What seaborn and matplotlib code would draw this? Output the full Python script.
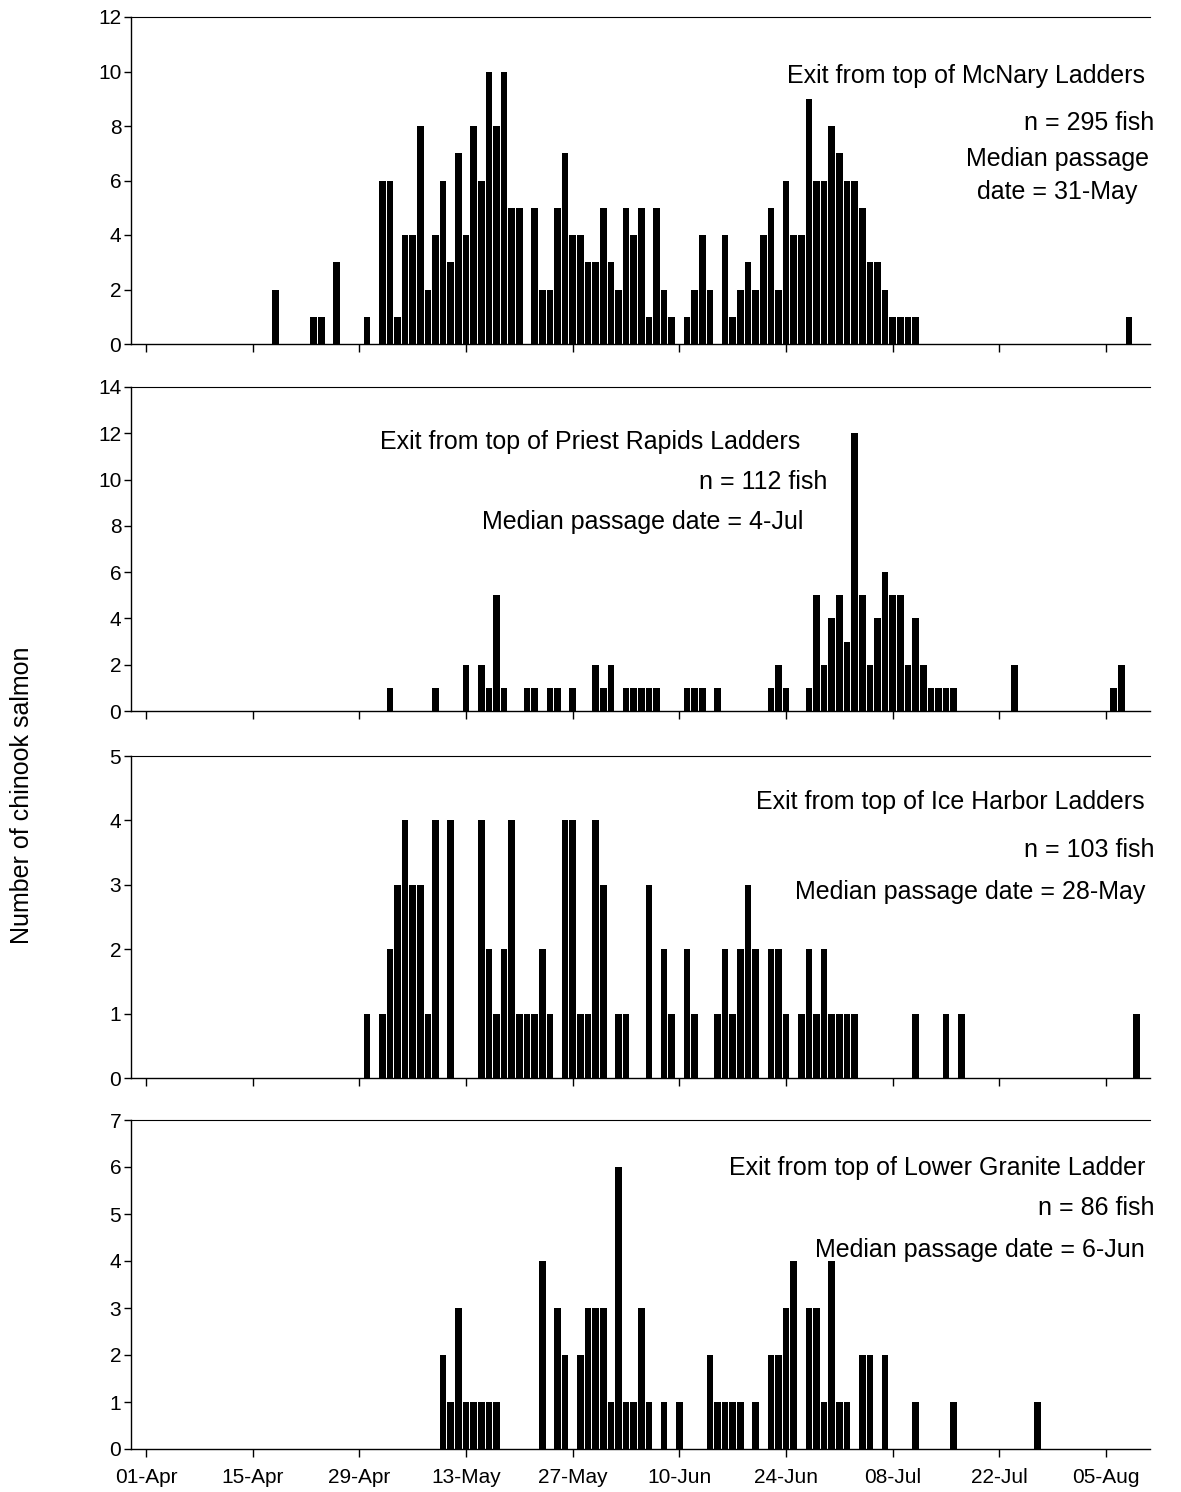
import numpy as np
import pandas as pd
import matplotlib
matplotlib.use("Agg")
import matplotlib.pyplot as plt
import seaborn as sns

# ---- daily counts of chinook salmon leaving the top of each ladder ----
season_start = "01-Apr"

mcnary_first = "18-Apr"
mcnary_counts = [
    2, 0, 0, 0, 0, 1, 1, 0, 3, 0, 0, 0, 1, 0,
    6, 6, 1, 4, 4, 8, 2, 4, 6, 3, 7, 4,
    8, 6, 10, 8, 10, 5, 5, 0,
    5, 2, 2, 5, 7, 4, 4, 3, 3, 5, 3, 2, 5, 4, 5, 1, 5, 2, 1, 0,
    1, 2, 4, 2, 0,
    4, 1, 2, 3, 2, 4, 5, 2, 6, 4, 4,
    9, 6, 6, 8, 7, 6, 6, 5, 3, 3, 2, 1, 1, 1, 1,
    0, 0, 0, 0, 0, 0, 0, 0, 0, 0, 0, 0, 0, 0, 0, 0, 0, 0, 0, 0, 0, 0, 0, 0, 0, 0, 0,
    1,
]

priest_first = "03-May"
priest_counts = [
    1, 0, 0, 0, 0, 0, 1, 0, 0, 0,
    2, 0, 2, 1, 5, 1, 0, 0, 1, 1,
    0, 1, 1, 0, 1, 0, 0, 2, 1, 2,
    0, 1, 1, 1, 1, 1, 0, 0, 0, 1,
    1, 1, 0, 1, 0, 0, 0, 0, 0, 0,
    1, 2, 1, 0, 0, 1, 5, 2, 4, 5,
    3, 12, 5, 2, 4, 6, 5, 5, 2, 4,
    2, 1, 1, 1, 1, 0, 0, 0, 0, 0,
    0, 0, 2, 0, 0, 0, 0, 0, 0, 0,
    0, 0, 0, 0, 0, 1, 2,
]

iceharbor_first = "30-Apr"
iceharbor_counts = [
    1, 0, 1, 2, 3, 4, 3, 3, 1, 4, 0, 4,
    0, 0, 0, 4, 2, 1, 2, 4, 1, 1,
    1, 2, 1, 0, 4, 4, 1, 1, 4, 3,
    0, 1, 1, 0, 0, 3, 0, 2, 1, 0,
    2, 1, 0, 0, 1, 2, 1, 2, 3, 2,
    0, 2, 2, 1, 0, 1, 2, 1, 2, 1,
    1, 1, 1, 0, 0, 0, 0, 0, 0, 0,
    1, 0, 0, 0, 1, 0, 1, 0, 0, 0,
    0, 0, 0, 0, 0, 0, 0, 0, 0, 0,
    0, 0, 0, 0, 0, 0, 0, 0, 0, 1,
]

granite_first = "10-May"
granite_counts = [
    2, 1,
    3, 1, 1, 1, 1, 1, 0, 0, 0, 0,
    0, 4, 0, 3, 2, 0, 2, 3, 3, 3,
    1, 6, 1, 1, 3, 1, 0, 1, 0, 1,
    0, 0, 0, 2, 1, 1, 1, 1, 0, 1,
    0, 2, 2, 3, 4, 0, 3, 3, 1, 4,
    1, 1, 0, 2, 2, 0, 2, 0, 0, 0,
    1, 0, 0, 0, 0, 1, 0, 0, 0, 0,
    0, 0, 0, 0, 0, 0, 1,
]

panel_titles = [
    "Exit from top of McNary Ladders",
    "Exit from top of Priest Rapids Ladders",
    "Exit from top of Ice Harbor Ladders",
    "Exit from top of Lower Granite Ladder",
]
panel_n = ["n = 295 fish", "n = 112 fish", "n = 103 fish", "n = 86 fish"]
panel_median = [
    "Median passage\ndate = 31-May",
    "Median passage date = 4-Jul",
    "Median passage date = 28-May",
    "Median passage date = 6-Jun",
]
panel_ymax = [12, 14, 5, 7]
panel_ystep = [2, 2, 1, 1]
tick_every_days = 14
last_tick_day = 126
y_label = "Number of chinook salmon"

# ---- helpers ----
YEAR = "-2000"


def to_date(label):
    return pd.to_datetime(label + YEAR, format="%d-%b-%Y")


start_date = to_date(season_start)


def season_day(label):
    return (to_date(label) - start_date).days


series = [
    (mcnary_first, mcnary_counts),
    (priest_first, priest_counts),
    (iceharbor_first, iceharbor_counts),
    (granite_first, granite_counts),
]

# ---- style ----
sns.set_style("ticks")
plt.rcParams["font.family"] = ["Liberation Sans", "DejaVu Sans"]
plt.rcParams["axes.linewidth"] = 1.0
for key in ["text.color", "axes.labelcolor", "axes.edgecolor", "xtick.color", "ytick.color"]:
    plt.rcParams[key] = "black"

W, H = 1181, 1492
fig = plt.figure(figsize=(W / 100, H / 100), dpi=100)

# plot-area pixel boxes (top, bottom) for each panel
left_px, right_px = 131, 1150
boxes = [(17, 344), (387, 711), (756, 1078), (1120, 1449)]

# text layout: (x, baseline, alignment) in pixels for title, n and median lines
text_pos = [
    [(1145, 83, "right"), (1154, 130, "right"), (1057, 166, "center")],
    [(800, 449, "right"), (827, 489, "right"), (803, 529, "right")],
    [(1145, 809, "right"), (1154, 857, "right"), (1145, 899, "right")],
    [(1145, 1175, "right"), (1154, 1215, "right"), (1145, 1257, "right")],
]
line_step_px = 33

px_per_day = 7.62
x_lo = -(146 - left_px) / px_per_day
x_hi = (right_px - 146) / px_per_day

tick_days = list(range(0, last_tick_day + 1, tick_every_days))
tick_labels = [(start_date + pd.Timedelta(days=d)).strftime("%d-%b") for d in tick_days]

for i, ((first, counts), (top, bottom)) in enumerate(zip(series, boxes)):
    ax = fig.add_axes([left_px / W, 1 - bottom / H, (right_px - left_px) / W, (bottom - top) / H])
    d0 = season_day(first)
    df = pd.DataFrame({"day": d0 + np.arange(len(counts)), "count": counts})
    sns.barplot(data=df, x="day", y="count", native_scale=True, color="black",
                saturation=1, width=0.87, linewidth=0, errorbar=None, ax=ax)
    ax.set_xlim(x_lo, x_hi)
    ax.set_ylim(0, panel_ymax[i])
    ax.set_yticks(range(0, panel_ymax[i] + 1, panel_ystep[i]))
    ax.set_xticks(tick_days)
    if i == len(series) - 1:
        ax.set_xticklabels(tick_labels)
    else:
        ax.set_xticklabels([])
    ax.set_xlabel("")
    ax.set_ylabel("")
    ax.spines["right"].set_visible(False)
    ax.spines["top"].set_linewidth(0.8)
    ax.tick_params(axis="x", direction="out", length=6, width=1, labelsize=15, pad=8)
    ax.tick_params(axis="y", direction="out", length=5, width=1, labelsize=15, pad=2)

    # annotations
    lines = [panel_titles[i], panel_n[i], panel_median[i]]
    for text, (x, base, align) in zip(lines, text_pos[i]):
        for k, part in enumerate(text.split("\n")):
            fig.text(x / W, 1 - (base + k * line_step_px) / H, part,
                     ha=align, va="baseline", fontsize=18)

fig.text(22 / W, 1 - 795 / H, y_label, rotation=90, ha="center", va="center", fontsize=18)

fig.savefig("out.png", dpi=100)
